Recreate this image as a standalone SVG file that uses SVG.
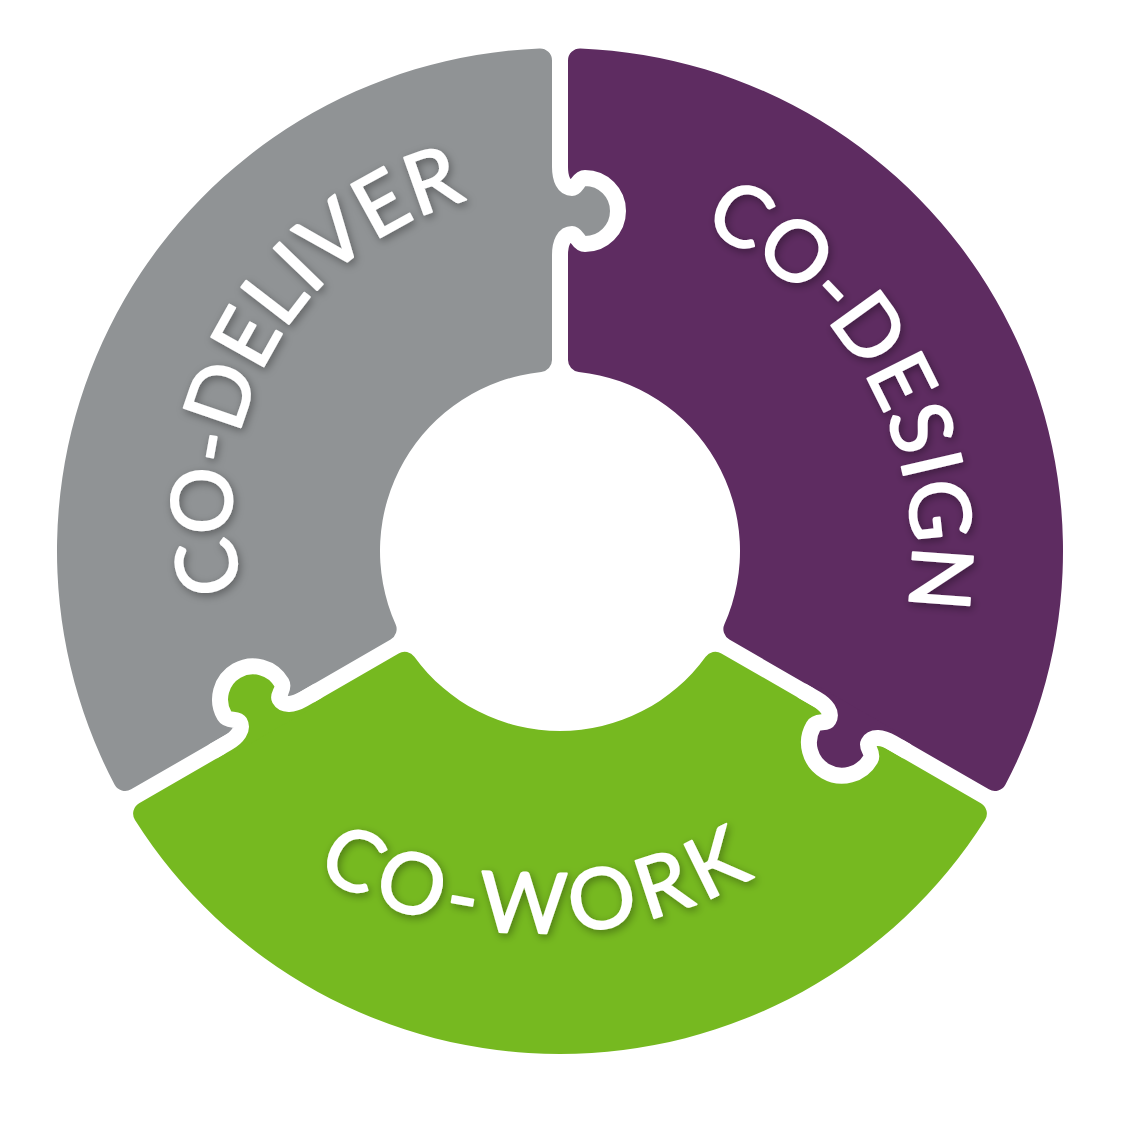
<svg xmlns="http://www.w3.org/2000/svg" xmlns:xlink="http://www.w3.org/1999/xlink" width="1139" height="1122" viewBox="0 0 1139 1122">
<style>
.lbl{font-family:Lato,"Open Sans","Liberation Sans",sans-serif;font-size:84px;fill:#fff;stroke:#fff;stroke-width:2;stroke-linejoin:round;filter:url(#sh)}
.cut{fill:none;stroke:#fff;stroke-width:16;stroke-linejoin:round;stroke-linecap:butt}
</style>
<defs>
<filter id="sh" x="-20%" y="-20%" width="140%" height="140%">
<feGaussianBlur in="SourceAlpha" stdDeviation="4"/>
<feOffset dx="2" dy="3" result="b"/>
<feFlood flood-color="#000" flood-opacity="0.35"/>
<feComposite in2="b" operator="in"/>
<feMerge><feMergeNode/><feMergeNode in="SourceGraphic"/></feMerge>
</filter>
<path id="piece" d="M568,360.044 L568,60.407 A12,12 0 0 1 580.489,48.417 A503,503 0 0 1 1005.496,784.548 A12,12 0 0 1 988.868,789.369 L729.373,639.55 A12,12 0 0 1 724.412,624.273 A180,180 0 0 0 578.75,371.979 A12,12 0 0 1 568,360.044 Z"/>
<path id="tab" d="M548,160 L560,160 L560,167 C560,179 564,188 572,188 C577,188 578,178 585,178 A33,33 0 0 1 585,244 C578,244 577,234 572,234 C564,234 560,243 560,255 L560,262 L548,262 Z"/>
<path id="cutline" d="M560,150 L560,167 C560,179 564,188 572,188 C577,188 578,178 585,178 A33,33 0 0 1 585,244 C578,244 577,234 572,234 C564,234 560,243 560,255 L560,272"/>
<path id="arcDesign" d="M448.9,217 A352,352 0 0 1 778.6,826.9"/>
<path id="arcDeliver" d="M366.7,764.9 A316,316 0 0 1 681.5,219.6"/>
<path id="arcWork" d="M103.7,568.6 A441,441 0 0 0 972.3,568.6"/>
</defs>
<rect width="1139" height="1122" fill="#fff"/>
<g id="node-codesign"><use xlink:href="#piece" fill="#5E2C61"/></g>
<g id="node-cowork"><use xlink:href="#piece" fill="#76B920" transform="rotate(120 560 551)"/></g>
<g id="node-codeliver"><use xlink:href="#piece" fill="#909395" transform="rotate(240 560 551)"/></g>
<g id="connectors">
<g id="joint-top"><use xlink:href="#tab" fill="#909395"/><use xlink:href="#cutline" class="cut"/></g>
<g id="joint-right" transform="rotate(120 560 551)"><use xlink:href="#tab" fill="#5E2C61"/><use xlink:href="#cutline" class="cut"/></g>
<g id="joint-left" transform="rotate(240 560 551)"><use xlink:href="#tab" fill="#76B920"/><use xlink:href="#cutline" class="cut"/></g>
</g>
<g id="labels">
<text class="lbl" letter-spacing="0.5"><textPath xlink:href="#arcDesign" startOffset="50%" text-anchor="middle">CO-DESIGN</textPath></text>
<text class="lbl" letter-spacing="1"><textPath xlink:href="#arcDeliver" startOffset="50%" text-anchor="middle">CO-DELIVER</textPath></text>
<text class="lbl" letter-spacing="7.5"><textPath xlink:href="#arcWork" startOffset="50%" text-anchor="middle">CO-WORK</textPath></text>
</g>
</svg>
